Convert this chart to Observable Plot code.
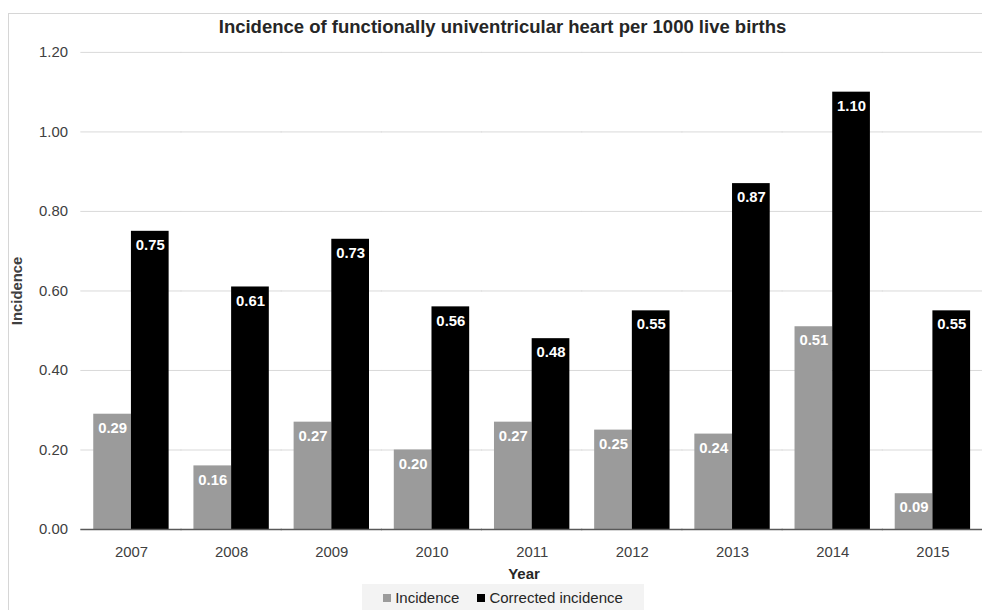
<!DOCTYPE html>
<html><head><meta charset="utf-8">
<script src="https://cdn.jsdelivr.net/npm/d3@7"></script>
<script src="https://cdn.jsdelivr.net/npm/@observablehq/plot@0.6"></script>
<style>
html,body{margin:0;padding:0;background:#fff;overflow:hidden;}
#wrap{position:relative;width:982px;height:610px;overflow:hidden;font-family:"Liberation Sans",Arial,sans-serif;}
#frame{position:absolute;left:8px;top:13px;width:1100px;height:800px;border:1px solid #d6d6d6;box-sizing:border-box;}
#title{position:absolute;left:0;top:16px;width:1005px;text-align:center;font-weight:bold;font-size:18.5px;color:#262626;line-height:22px;}
#chart{position:absolute;left:0;top:40px;}
#xlabel{position:absolute;left:0;width:1048px;top:565px;text-align:center;font-weight:bold;font-size:15px;color:#262626;line-height:18px;}
#legend{position:absolute;left:362px;top:584px;width:282px;height:26px;background:#f3f3f3;font-size:15px;color:#262626;display:flex;align-items:center;justify-content:center;gap:18px;}
#legend span.sw{display:inline-block;width:8px;height:8px;margin-right:4px;vertical-align:middle;position:relative;top:-1px;}
#chart svg{overflow:visible;}
g[aria-label="y-axis label"] text{font-weight:bold;}
</style>
</head><body>
<div id="wrap">
  <div id="frame"></div>
  <div id="title">Incidence of functionally univentricular heart per 1000 live births</div>
  <div id="chart"></div>
  <div id="xlabel">Year</div>
  <div id="legend"></div>
</div>
<script>
const years = ["2007","2008","2009","2010","2011","2012","2013","2014","2015"];
const incidence = [0.29, 0.16, 0.27, 0.20, 0.27, 0.25, 0.24, 0.51, 0.09];
const corrected = [0.75, 0.61, 0.73, 0.56, 0.48, 0.55, 0.87, 1.10, 0.55];
const seriesNames = ["Incidence", "Corrected incidence"];
const seriesColors = ["#9b9b9b", "#000000"];
const yTicks = [0, 0.2, 0.4, 0.6, 0.8, 1.0, 1.2];

const rows = [];
years.forEach((yr, i) => {
  rows.push({year: yr, series: seriesNames[0], value: incidence[i]});
  rows.push({year: yr, series: seriesNames[1], value: corrected[i]});
});

const chart = Plot.plot({
  width: 990,
  height: 543,
  marginLeft: 81,
  marginRight: 0,
  marginTop: 12,
  marginBottom: 50,
  style: {fontFamily: '"Liberation Sans", Arial, sans-serif', fontSize: "15px", color: "#404040", background: "transparent"},
  fx: {domain: years, paddingInner: 0.25, paddingOuter: 0.125, label: null},
  x: {domain: seriesNames, padding: 0, axis: null},
  y: {domain: [0, 1.2], ticks: yTicks, label: null},
  color: {domain: seriesNames, range: seriesColors},
  marks: [
    Plot.ruleY(yTicks, {stroke: "#d9d9d9", strokeWidth: 1, insetLeft: -13, insetRight: -13}),
    Plot.axisY(yTicks, {tickSize: 0, tickPadding: 26, tickFormat: d3.format(".2f"), label: "Incidence", labelAnchor: "center", labelOffset: 83, labelArrow: "none", fontSize: 15}),
    Plot.axisFx({anchor: "bottom", tickSize: 0, tickPadding: 17, label: null, fontSize: 15}),
    Plot.barY(rows, {fx: "year", x: "series", y: "value", fill: "series"}),
    Plot.ruleY([0], {stroke: "#595959", strokeWidth: 1.5, insetLeft: -13, insetRight: -13}),
    Plot.text(rows, {fx: "year", x: "series", y: "value", text: d => d.value.toFixed(2), fill: "#ffffff", fontWeight: "bold", fontSize: 15, dy: 14, lineAnchor: "middle"})
  ]
});
document.getElementById("chart").appendChild(chart);

const legend = document.getElementById("legend");
seriesNames.forEach((name, i) => {
  const item = document.createElement("div");
  const sw = document.createElement("span");
  sw.className = "sw";
  sw.style.background = seriesColors[i];
  item.appendChild(sw);
  item.appendChild(document.createTextNode(name));
  legend.appendChild(item);
});
</script>
</body></html>
